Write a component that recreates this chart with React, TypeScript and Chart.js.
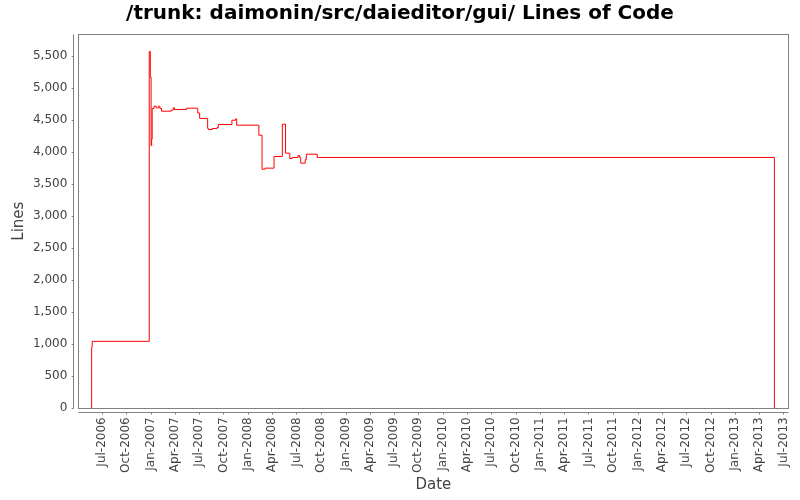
import React, { useEffect, useRef } from 'react';
import { Chart, registerables } from 'chart.js';

Chart.register(...registerables);

// ---- data ----
const commitDates = [
  '2006-05-25', '2006-05-25', '2006-05-27', '2006-12-27', '2006-12-31',
  '2007-01-03', '2007-01-05', '2007-01-07', '2007-01-14', '2007-01-22',
  '2007-01-31', '2007-02-05', '2007-02-11', '2007-03-19', '2007-03-27',
  '2007-04-01', '2007-05-16', '2007-06-27', '2007-07-04', '2007-08-03',
  '2007-08-06', '2007-08-20', '2007-09-07', '2007-09-12', '2007-11-02',
  '2007-11-16', '2007-11-20', '2008-02-11', '2008-02-23', '2008-03-05',
  '2008-04-08', '2008-05-09', '2008-05-21', '2008-06-06', '2008-06-15',
  '2008-07-07', '2008-07-13', '2008-07-17', '2008-08-03', '2008-08-07',
  '2008-09-17', '2013-05-28',
];
const linesOfCode = [
  0, 951, 1045, 5570, 5170,
  4100, 4200, 4680, 4716, 4690,
  4716, 4680, 4638, 4654, 4690,
  4665, 4685, 4610, 4525, 4368,
  4352, 4368, 4384, 4430, 4497,
  4518, 4420, 4263, 3733, 3749,
  3931, 4435, 3983, 3900, 3916,
  3947, 3916, 3827, 3885, 3967,
  3916, 0,
];
const xTickLabels = [
  'Jul-2006', 'Oct-2006', 'Jan-2007', 'Apr-2007', 'Jul-2007', 'Oct-2007',
  'Jan-2008', 'Apr-2008', 'Jul-2008', 'Oct-2008', 'Jan-2009', 'Apr-2009',
  'Jul-2009', 'Oct-2009', 'Jan-2010', 'Apr-2010', 'Jul-2010', 'Oct-2010',
  'Jan-2011', 'Apr-2011', 'Jul-2011', 'Oct-2011', 'Jan-2012', 'Apr-2012',
  'Jul-2012', 'Oct-2012', 'Jan-2013', 'Apr-2013', 'Jul-2013',
];
const yTickValues = [0, 500, 1000, 1500, 2000, 2500, 3000, 3500, 4000, 4500, 5000, 5500];

const TITLE = '/trunk: daimonin/src/daieditor/gui/ Lines of Code';
const X_TITLE = 'Date';
const Y_TITLE = 'Lines';

// ---- helpers ----
const MONTHS: Record<string, number> = { Jan: 0, Apr: 3, Jul: 6, Oct: 9 };
const parseDate = (s: string) => {
  const [y, m, d] = s.split('-').map(Number);
  return Date.UTC(y, m - 1, d);
};
const parseTick = (s: string) => {
  const [mon, yr] = s.split('-');
  return Date.UTC(Number(yr), MONTHS[mon], 1);
};
const xTickValues = xTickLabels.map(parseTick);

const X_MIN = Date.UTC(2006, 3, 5);
const X_MAX = Date.UTC(2013, 6, 20);
const Y_MIN = 0;
const Y_MAX = 5843;

const FONT = "'DejaVu Sans', sans-serif";
const GRAY = '#808080';
const TEXT = '#444444';

const framePlugin = {
  id: 'jfreeFrame',
  beforeDraw(chart: any) {
    const { ctx, width, height } = chart;
    ctx.save();
    ctx.fillStyle = '#ffffff';
    ctx.fillRect(0, 0, width, height);
    ctx.restore();
  },
  afterDraw(chart: any) {
    const { ctx, chartArea: a, scales } = chart;
    const L = Math.floor(a.left) + 0.5;
    const R = Math.floor(a.right) + 0.5;
    const T = Math.floor(a.top) + 0.5;
    const B = Math.floor(a.bottom) + 0.5;
    ctx.save();
    ctx.strokeStyle = GRAY;
    ctx.lineWidth = 1;
    // plot outline
    ctx.strokeRect(L, T, R - L, B - T);
    // offset y axis line + ticks
    const ax = L - 5;
    ctx.beginPath();
    ctx.moveTo(ax, T);
    ctx.lineTo(ax, B);
    for (const v of yTickValues) {
      const py = Math.round(scales.y.getPixelForValue(v)) + 0.5;
      ctx.moveTo(ax - 2, py);
      ctx.lineTo(ax, py);
    }
    // offset x axis line + ticks
    const ay = B + 4;
    ctx.moveTo(L, ay);
    ctx.lineTo(R, ay);
    for (const v of xTickValues) {
      const px = Math.round(scales.x.getPixelForValue(v)) + 0.5;
      ctx.moveTo(px, ay);
      ctx.lineTo(px, ay + 2);
    }
    ctx.stroke();

    // chart title
    ctx.fillStyle = '#000000';
    ctx.font = `bold 20px ${FONT}`;
    ctx.textAlign = 'center';
    ctx.textBaseline = 'middle';
    ctx.fillText(TITLE, 400, 14);

    // axis titles
    ctx.fillStyle = TEXT;
    ctx.font = `15px ${FONT}`;
    ctx.fillText(X_TITLE, (a.left + a.right) / 2, 485);
    ctx.save();
    ctx.translate(19, (a.top + a.bottom) / 2);
    ctx.rotate(-Math.PI / 2);
    ctx.fillText(Y_TITLE, 0, 0);
    ctx.restore();
    ctx.restore();
  },
};

export default function App() {
  const canvasRef = useRef<HTMLCanvasElement | null>(null);

  useEffect(() => {
    const canvas = canvasRef.current;
    if (!canvas) return;
    const points = commitDates.map((d, i) => ({ x: parseDate(d), y: linesOfCode[i] }));
    const chart = new Chart(canvas, {
      type: 'line',
      data: {
        datasets: [
          {
            data: points,
            borderColor: '#ff0000',
            borderWidth: 1,
            pointRadius: 0,
            stepped: true,
            fill: false,
          },
        ],
      },
      options: {
        responsive: false,
        animation: false,
        devicePixelRatio: 1,
        layout: { padding: { top: 34, right: 11.5, left: 0, bottom: 0 } },
        plugins: {
          legend: { display: false },
          title: { display: false },
          tooltip: { enabled: false },
        },
        scales: {
          x: {
            type: 'linear',
            min: X_MIN,
            max: X_MAX,
            grid: { display: false, drawTicks: false },
            border: { display: false },
            afterFit: (s: any) => {
              s.height = 91.7;
              s.paddingLeft = 0;
              s.paddingRight = 0;
            },
            afterBuildTicks: (s: any) => {
              s.ticks = xTickValues.map((v) => ({ value: v }));
            },
            ticks: {
              autoSkip: false,
              minRotation: 90,
              maxRotation: 90,
              padding: 9,
              color: TEXT,
              font: { family: FONT, size: 12 },
              callback: (_v: any, i: number) => xTickLabels[i],
            },
          },
          y: {
            type: 'linear',
            min: Y_MIN,
            max: Y_MAX,
            grid: { display: false, drawTicks: false },
            border: { display: false },
            afterFit: (s: any) => {
              s.width = 78.3;
              s.paddingTop = 0;
              s.paddingBottom = 0;
            },
            afterBuildTicks: (s: any) => {
              s.ticks = yTickValues.map((v) => ({ value: v }));
            },
            ticks: {
              padding: 11,
              color: TEXT,
              font: { family: FONT, size: 12 },
              callback: (v: any) => Number(v).toLocaleString('en-US'),
            },
          },
        },
      },
      plugins: [framePlugin],
    } as any);
    return () => chart.destroy();
  }, []);

  return (
    <div style={{ position: 'absolute', left: 0, top: 0, width: 800, height: 500 }}>
      <canvas ref={canvasRef} width={800} height={500} style={{ display: 'block' }} />
    </div>
  );
}
